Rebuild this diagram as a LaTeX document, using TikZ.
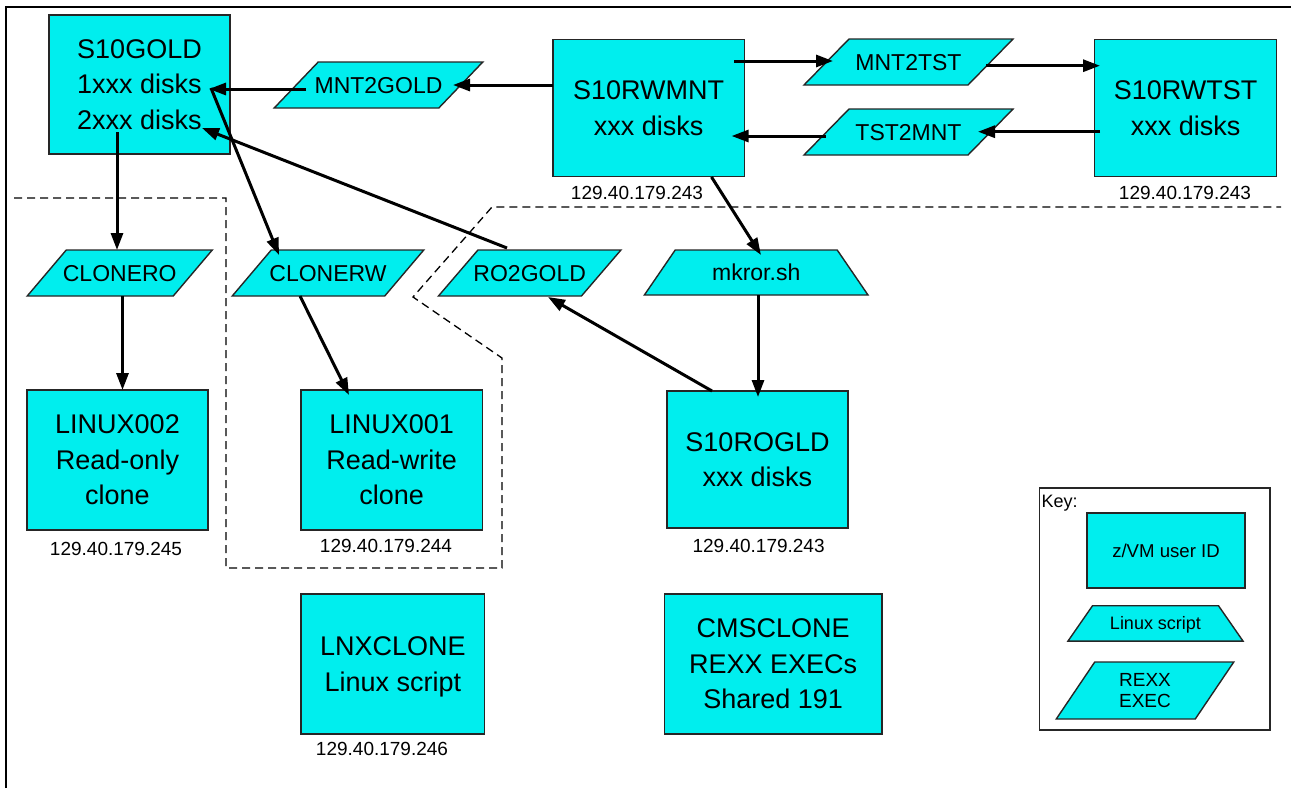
\documentclass[tikz,border=0pt]{standalone}
\usepackage{fontspec}
\setmainfont{Liberation Sans}
\usetikzlibrary{arrows.meta,calc}
\definecolor{cyanfill}{RGB}{0,238,238}
\newcommand{\pgram}[8]{% style, name, cx, cy, edge width, height, skew, text
  \path[shapefill] (#3-#5/2-#7/2,#4+#6/2) -- (#3+#5/2-#7/2,#4+#6/2) -- (#3+#5/2+#7/2,#4-#6/2) -- (#3-#5/2+#7/2,#4-#6/2) -- cycle;
  \node[#1] (#2) at (#3,#4) {#8};}
\newcommand{\trap}[8]{% style, name, cx, cy, top width, bottom width, height, text
  \path[shapefill] (#3-#6/2,#4+#7/2) -- (#3+#6/2,#4+#7/2) -- (#3+#5/2,#4-#7/2) -- (#3-#5/2,#4-#7/2) -- cycle;
  \node[#1] (#2) at (#3,#4) {#8};}
\begin{document}
\begin{tikzpicture}[x=1pt,y=-1pt,
  ubox/.style={draw=black!85,line width=1.4pt,fill=cyanfill,inner sep=0pt,align=center,text depth=-5pt,font=\fontsize{27}{35.5}\selectfont},
  shapefill/.style={draw=black!85,line width=1.4pt,fill=cyanfill,line join=miter},
  scrtext/.style={inner sep=0pt,text depth=0pt,font=\fontsize{23}{28}\selectfont},
  iplabel/.style={anchor=base,inner sep=0pt,font=\fontsize{19}{23}\selectfont},
  conn/.style={line width=3pt,-{Triangle[length=17pt,width=12pt]}},
  zone/.style={line width=1.3pt,dash pattern=on 8pt off 5pt}
]
\useasboundingbox (0,0) rectangle (1291,788);
\fill[white] (0,0) rectangle (1291,788);
% frame
\draw[line width=2pt] (6,788) -- (6,7) -- (1291,7);
% dashed zones
\draw[zone] (14,198) -- (226,198) -- (226,568) -- (502,568) -- (502,358) -- (413,297) -- (492,207) -- (1281,207);

% user ID boxes
\node[ubox,minimum width=181pt,minimum height=139pt] (gold) at (139.5,84.5) {S10GOLD\\1xxx disks\\2xxx disks};
\node[ubox,minimum width=191.5pt,minimum height=137.5pt] (rwmnt) at (648.7,108) {S10RWMNT\\xxx disks};
\node[ubox,minimum width=182pt,minimum height=137.5pt] (rwtst) at (1185.6,108) {S10RWTST\\xxx disks};
\node[ubox,minimum width=181pt,minimum height=140pt] (linux002) at (117.5,460) {LINUX002\\Read-only\\clone};
\node[ubox,minimum width=181.5pt,minimum height=140pt] (linux001) at (391.7,460) {LINUX001\\Read-write\\clone};
\node[ubox,minimum width=181pt,minimum height=137pt] (rogld) at (757.5,459.5) {S10ROGLD\\xxx disks};
\node[ubox,minimum width=183.6pt,minimum height=140pt] (lnxclone) at (392.8,664) {LNXCLONE\\Linux script};
\node[ubox,minimum width=217.5pt,minimum height=140pt] (cmsclone) at (773.2,664) {CMSCLONE\\REXX EXECs\\Shared 191};

% IP labels
\node[iplabel] (ipmnt) at (637,199) {129.40.179.243};
\node[iplabel] (iptst) at (1185,199) {129.40.179.243};
\node[iplabel] (ip002) at (116,555) {129.40.179.245};
\node[iplabel] (ip001) at (386,552) {129.40.179.244};
\node[iplabel] (iprogld) at (758.6,552) {129.40.179.243};
\node[iplabel] (iplnx) at (382,755) {129.40.179.246};

% REXX EXEC parallelograms
\pgram{scrtext}{mnt2gold}{378.5}{85}{164.6}{46}{44}{MNT2GOLD}
\pgram{scrtext}{mnt2tst}{908.5}{62}{164}{46}{45}{MNT2TST}
\pgram{scrtext}{tst2mnt}{908.5}{132}{164}{46}{45}{TST2MNT}
\pgram{scrtext}{clonero}{119.75}{273}{146}{46}{39}{CLONERO}
\pgram{scrtext}{clonerw}{328}{273}{152.5}{46}{39}{CLONERW}
\pgram{scrtext}{ro2gold}{529.7}{273}{143}{46}{39.5}{RO2GOLD}
% Linux script trapezoid
\trap{scrtext}{mkror}{756.2}{272.5}{162}{223.6}{45}{mkror.sh}

% connectors
\draw[conn] ($(mnt2gold)+(-72.5,4)$) -- ($(gold)+(69.5,4.5)$);
\draw[conn] ($(rwmnt)+(-95.7,-23)$) -- ($(mnt2gold)+(74.5,0)$);
\draw[conn] ($(gold)+(71.5,3.5)$) -- ($(clonerw)+(-49,-18)$);
\draw[conn] ($(ro2gold)+(-22.7,-25)$) -- ($(gold)+(62.5,43.5)$);
\draw[conn] ($(gold)+(-22.5,47.5)$) -- ($(clonero)+(-2.75,-23)$);
\draw[conn] ($(clonero)+(2.75,23)$) -- ($(linux002)+(5,-70)$);
\draw[conn] ($(clonerw)+(-28,23)$) -- ($(linux001)+(-42.7,-65)$);
\draw[conn] ($(rwmnt)+(85.3,-47)$) -- ($(mnt2tst)+(-75.5,-1)$);
\draw[conn] ($(mnt2tst)+(77.5,3.7)$) -- ($(rwtst)+(-85.6,-42.3)$);
\draw[conn] ($(rwtst)+(-85.6,23.7)$) -- ($(tst2mnt)+(69.5,-0.3)$);
\draw[conn] ($(tst2mnt)+(-82.5,4)$) -- ($(rwmnt)+(82.9,28)$);
\draw[conn] ($(rwmnt)+(62.8,69)$) -- ($(mkror)+(4.8,-17.5)$);
\draw[conn] ($(mkror)+(1.8,22.5)$) -- ($(rogld)+(0.5,-62.5)$);
\draw[conn] ($(rogld)+(-45.5,-68.5)$) -- ($(ro2gold)+(18.3,24)$);

% key
\draw[line width=1.4pt,draw=black!85] (1039.5,488) rectangle (1270,730);
\node[anchor=base west,inner sep=0pt,font=\fontsize{18}{21}\selectfont] (keylabel) at (1041.5,507) {Key:};
\node[ubox,text depth=0pt,minimum width=158pt,minimum height=75pt,font=\fontsize{18.6}{22}\selectfont] (keyuser) at (1166,550.5) {z/VM user ID};
\trap{scrtext,font=\fontsize{18}{21}\selectfont}{keyscript}{1155.5}{623.4}{126}{175}{35.3}{Linux script}
\pgram{scrtext,align=center,font=\fontsize{19}{21}\selectfont}{keyexec}{1145}{690.5}{139}{57}{38.5}{REXX\\EXEC}
\end{tikzpicture}
\end{document}
